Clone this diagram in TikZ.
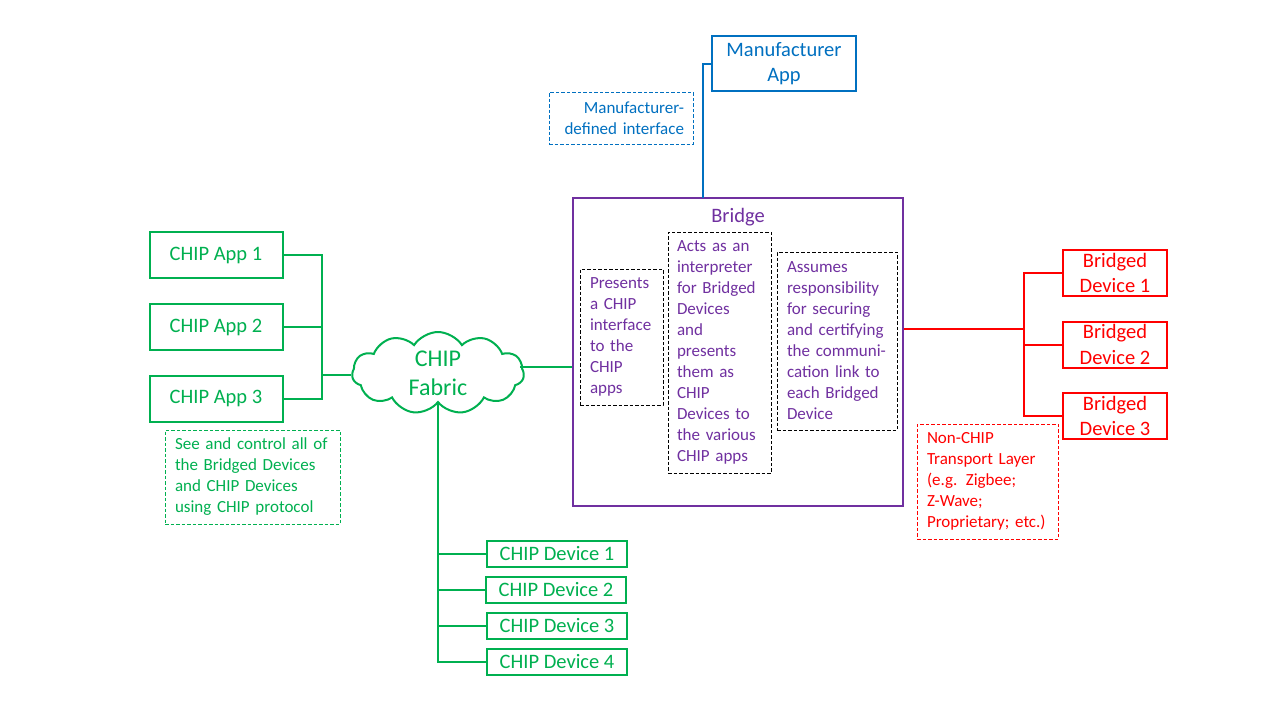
\documentclass[tikz,border=0pt]{standalone}
\usepackage{fontspec}
\setmainfont{Carlito}
\usetikzlibrary{shapes.symbols}
\definecolor{cgreen}{RGB}{0,176,80}
\definecolor{cblue}{RGB}{0,112,192}
\definecolor{cpurple}{RGB}{112,48,160}
\definecolor{cred}{RGB}{255,0,0}
\tikzset{
  solidbox/.style={draw, line width=2pt, rectangle, inner sep=0pt, align=center, font=\fontsize{20.5}{25.5}\selectfont},
  notebox/.style={draw, line width=0.9pt, dash pattern=on 3.5pt off 2pt, rectangle, inner ysep=0pt, font=\fontsize{17}{21}\selectfont},
  wire/.style={line width=2pt},
}
\begin{document}
\begin{tikzpicture}[x=1pt,y=-1pt]
\useasboundingbox (0,0) rectangle (1280,720);
\fill[white] (0,0) rectangle (1280,720);

% Manufacturer
\node[solidbox, cblue, text=cblue, minimum width=144, minimum height=55] (mapp) at (784,63.5) {Manufacturer\\App};
\node[notebox, cblue, text=cblue, minimum width=144, minimum height=52, text width=126, inner xsep=9pt, align=right] (mnote) at (621,118) {Manufacturer-\\defined interface};

% Bridge
\node[draw, cpurple, line width=2pt, minimum width=330, minimum height=308, inner sep=0pt] (bridge) at (738,352) {};
\node[text=cpurple, font=\fontsize{20.5}{25}\selectfont, inner sep=0pt] (btitle) at (738,217) {Bridge};
\node[notebox, black, text=cpurple, minimum height=136, text width=63, inner xsep=10pt, align=left] (bx1) at (621.5,337) {Presents\\a CHIP\\interface\\to the\\CHIP\\apps};
\node[notebox, black, text=cpurple, minimum height=241, text width=85, inner xsep=9pt, align=left] (bx2) at (719.5,352.5) {Acts as an\\interpreter\\for Bridged\\Devices\\and\\presents\\them as\\CHIP\\Devices to\\the various\\CHIP apps};
\node[notebox, black, text=cpurple, minimum height=178, text width=100, inner xsep=10pt, align=left] (bx3) at (837,341) {Assumes\\responsibility\\for securing\\and certifying\\the communi-\\cation link to\\each Bridged\\Device};

% CHIP apps
\node[solidbox, cgreen, text=cgreen, minimum width=133, minimum height=46] (app1) at (216,255) {CHIP App 1};
\node[solidbox, cgreen, text=cgreen, minimum width=133, minimum height=46] (app2) at (216,327) {CHIP App 2};
\node[solidbox, cgreen, text=cgreen, minimum width=133, minimum height=46] (app3) at (216,398.5) {CHIP App 3};
\node[notebox, cgreen, text=cgreen, minimum height=94, text width=155, inner xsep=10pt, align=left] (gnote) at (252.5,477) {See and control all of\\the Bridged Devices\\and CHIP Devices\\using CHIP protocol};

% Cloud
\node[cloud, draw, cgreen, line width=2pt, cloud puffs=11, cloud puff arc=115, aspect=2.1, minimum width=172, minimum height=82, inner sep=0pt, text=cgreen, align=center, font=\fontsize{24}{29}\selectfont] (fabric) at (438,373) {CHIP\\Fabric};

% CHIP devices
\node[solidbox, cgreen, text=cgreen, minimum width=140, minimum height=26, font=\fontsize{20.5}{25}\selectfont] (dev1) at (557,554) {CHIP Device 1};
\node[solidbox, cgreen, text=cgreen, minimum width=140, minimum height=26, font=\fontsize{20.5}{25}\selectfont] (dev2) at (556,590) {CHIP Device 2};
\node[solidbox, cgreen, text=cgreen, minimum width=140, minimum height=26, font=\fontsize{20.5}{25}\selectfont] (dev3) at (557,626) {CHIP Device 3};
\node[solidbox, cgreen, text=cgreen, minimum width=140, minimum height=26, font=\fontsize{20.5}{25}\selectfont] (dev4) at (557,662) {CHIP Device 4};

% Bridged devices
\node[solidbox, cred, text=cred, minimum width=104, minimum height=46] (bd1) at (1115,273) {Bridged\\Device 1};
\node[solidbox, cred, text=cred, minimum width=104, minimum height=46] (bd2) at (1115,344.5) {Bridged\\Device 2};
\node[solidbox, cred, text=cred, minimum width=104, minimum height=46] (bd3) at (1115,416) {Bridged\\Device 3};
\node[notebox, cred, text=cred, minimum height=115, text width=121, inner xsep=10pt, align=left] (rnote) at (987.5,481.5) {Non-CHIP\\Transport Layer\\(e.g. Zigbee;\\Z-Wave;\\Proprietary; etc.)};

% Coordinates for junctions
\coordinate (mj) at (703,198);
\coordinate (gj) at (322,375);
\coordinate (fr) at (520,367);
\coordinate (rj) at (1024,329);

% Connectors
\draw[wire, cblue] (mapp.west) -| (mj);
\draw[wire, cgreen] (app1.east) -| (gj);
\draw[wire, cgreen] (app3.east) -| (gj);
\draw[wire, cgreen] (app2.east) -- (app2.east -| gj);
\draw[wire, cgreen] (gj) -- (fabric.west |- gj);
\draw[wire, cgreen] (fr) -- (bridge.west |- fr);
\draw[wire, cgreen] (fabric.south) |- (dev4.west);
\draw[wire, cgreen] (dev1.west -| fabric.south) -- (dev1.west);
\draw[wire, cgreen] (dev2.west -| fabric.south) -- (dev2.west);
\draw[wire, cgreen] (dev3.west -| fabric.south) -- (dev3.west);
\draw[wire, cred] (bridge.east |- rj) -- (rj);
\draw[wire, cred] (bd1.west) -| (rj);
\draw[wire, cred] (bd3.west) -| (rj);
\draw[wire, cred] (bd2.west) -- (bd2.west -| rj);
\end{tikzpicture}
\end{document}
